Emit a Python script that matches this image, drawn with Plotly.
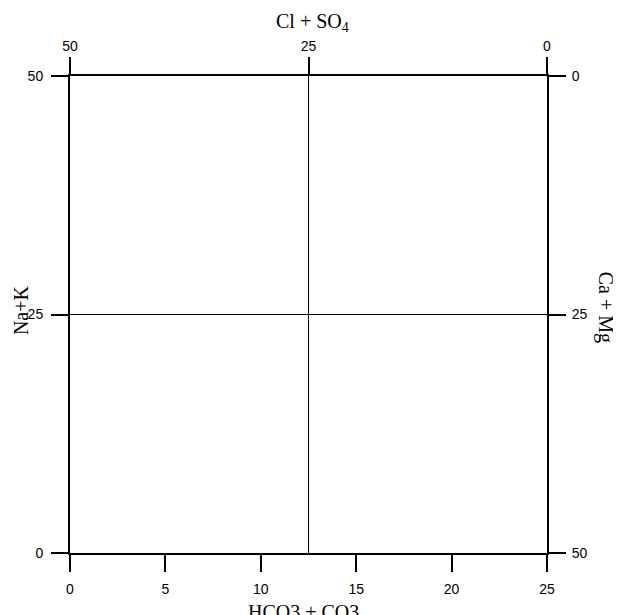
import plotly.graph_objects as go

# axis ticks
bottom_ticks = [0, 5, 10, 15, 20, 25]
top_ticks = [50, 25, 0]
left_ticks = [0, 25, 50]
right_ticks = [0, 25, 50]

# divider lines
vline_x = [12.5, 12.5]
vline_y = [0, 50]
hline_x = [0, 50]
hline_y = [25, 25]

fig = go.Figure()

fig.add_trace(go.Scatter(
    x = vline_x, y = vline_y, mode = 'lines',
    line = dict(color = 'black', width = 1),
    xaxis = 'x', yaxis = 'y', showlegend = False, hoverinfo = 'skip'
))

fig.add_trace(go.Scatter(
    x = hline_x, y = hline_y, mode = 'lines',
    line = dict(color = 'black', width = 1),
    xaxis = 'x2', yaxis = 'y2', showlegend = False, hoverinfo = 'skip'
))

axis_style = dict(
    showline = True, linecolor = 'black', linewidth = 2,
    ticks = 'outside', ticklen = 17, tickwidth = 2, tickcolor = 'black',
    showgrid = False, zeroline = False, automargin = False,
    tickfont = dict(family = 'Liberation Sans, Arial', size = 14, color = 'black'),
)
title_font = dict(family = 'Liberation Serif, Times New Roman', size = 20, color = 'black')

# the page body adds about 7px of offset, so size and margins make up for it
fig.update_layout(
    width = 614, height = 608,
    margin = dict(l = 62, r = 75, t = 68, b = 63),
    paper_bgcolor = 'white',
    plot_bgcolor = 'white',
    showlegend = False,
    xaxis = dict(range = [0, 25], tickvals = bottom_ticks, ticklabelstandoff = 5, **axis_style),
    xaxis2 = dict(range = [50, 0], tickvals = top_ticks, overlaying = 'x', side = 'top',
                  ticklabelstandoff = 0, **axis_style),
    yaxis = dict(range = [0, 50], tickvals = left_ticks, ticklabelstandoff = 5, **axis_style),
    yaxis2 = dict(range = [50, 0], tickvals = right_ticks, overlaying = 'y', side = 'right',
                  ticklabelstandoff = 3, **axis_style),
)

# axis titles
fig.add_annotation(text = 'HCO3 + CO3', xref = 'paper', yref = 'paper', x = 0.49, y = -0.123,
                   xanchor = 'center', yanchor = 'middle', showarrow = False, font = title_font)
fig.add_annotation(text = 'Cl + SO<sub>4</sub>', xref = 'paper', yref = 'paper', x = 0.508, y = 1.113,
                   xanchor = 'center', yanchor = 'middle', showarrow = False, font = title_font)
fig.add_annotation(text = 'Na+K', xref = 'paper', yref = 'paper', x = -0.103, y = 0.509,
                   xanchor = 'center', yanchor = 'middle', textangle = -90, showarrow = False,
                   font = title_font)
fig.add_annotation(text = 'Ca + Mg', xref = 'paper', yref = 'paper', x = 1.122, y = 0.516,
                   xanchor = 'center', yanchor = 'middle', textangle = 90, showarrow = False,
                   font = title_font)

fig.write_html("out.html")
